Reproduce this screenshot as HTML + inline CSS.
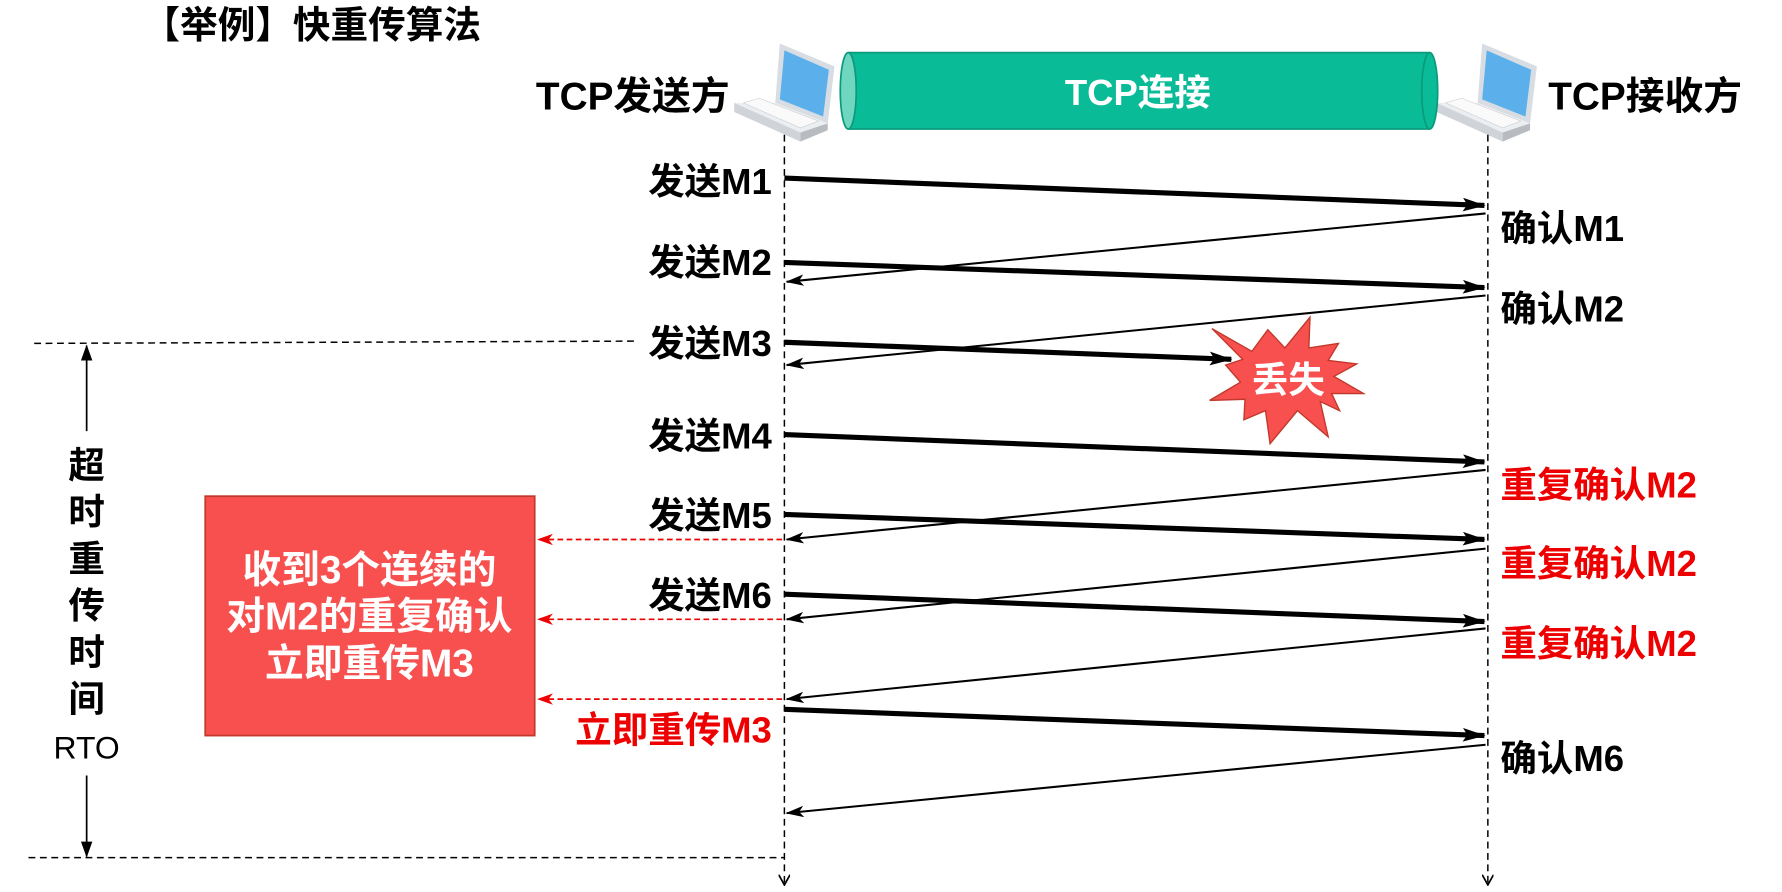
<!DOCTYPE html>
<html><head><meta charset="utf-8"><style>
html,body{margin:0;padding:0;background:#fff;}
svg{display:block}
text{font-family:"Liberation Sans","Noto Sans CJK SC",sans-serif;font-weight:bold;}
</style></head><body>
<svg width="1782" height="892" viewBox="0 0 1563 782" xmlns="http://www.w3.org/2000/svg">
<defs>
<marker id="at" markerWidth="20" markerHeight="12" refX="19" refY="6" orient="auto" markerUnits="userSpaceOnUse"><path d="M0,0 L20,6 L0,12 L4,6 z" fill="#000"/></marker>
<marker id="at2" markerWidth="16" markerHeight="10" refX="15" refY="5" orient="auto" markerUnits="userSpaceOnUse"><path d="M0,0 L16,5 L0,10 L4,5 z" fill="#000"/></marker>
<marker id="ar" markerWidth="14" markerHeight="10" refX="13" refY="5" orient="auto" markerUnits="userSpaceOnUse"><path d="M0,0 L14,5 L0,10 L4,5 z" fill="#e00"/></marker>
<marker id="ad" markerWidth="10" markerHeight="10" refX="9" refY="5" orient="auto" markerUnits="userSpaceOnUse"><path d="M0,0 L9,5 L0,10" fill="none" stroke="#000" stroke-width="1.5"/></marker>
<marker id="af" markerWidth="14" markerHeight="10" refX="13" refY="5" orient="auto" markerUnits="userSpaceOnUse"><path d="M0,0 L14,5 L0,10 z" fill="#000"/></marker>
<g id="lap">
<polygon points="40,0 88,20 82,70 36,52" fill="#d8dde3"/>
<polygon points="44,6 83,23 78,64 40,49" fill="#5bb0ec"/>
<polygon points="36,52 82,70 58,78 0,52" fill="#eceff2"/>
<polygon points="8,52 58,74 74,68 22,48" fill="#fafafa" stroke="#ccc" stroke-width="0.5"/>
<polygon points="0,52 58,78 58,86 0,60" fill="#d0d4d8"/>
<polygon points="58,78 82,70 82,76 58,86" fill="#b8bcc0"/>
</g>
</defs>

<text x="125" y="33" font-size="33">【举例】快重传算法</text>
<text x="640" y="96" font-size="34" text-anchor="end">TCP发送方</text>
<text x="1358" y="96" font-size="34">TCP接收方</text>

<use href="#lap" x="644" y="38"/>
<use href="#lap" x="1260" y="38"/>

<!-- cylinder -->
<rect x="744" y="46" width="510" height="67" fill="#0abb98"/>
<ellipse cx="1254" cy="79.5" rx="7" ry="33.5" fill="#0abb98" stroke="#0a9a7c" stroke-width="1.5"/>
<line x1="744" y1="46" x2="1254" y2="46" stroke="#0a9a7c" stroke-width="1.5"/>
<line x1="744" y1="113" x2="1254" y2="113" stroke="#0a9a7c" stroke-width="1.5"/>
<ellipse cx="744" cy="79.5" rx="7" ry="33.5" fill="#6fd6c0" stroke="#0a9a7c" stroke-width="1.5"/>
<text x="998" y="92" font-size="32" fill="#fff" text-anchor="middle">TCP连接</text>

<!-- lifelines -->
<line x1="688" y1="118" x2="688" y2="776" stroke="#000" stroke-width="1.3" stroke-dasharray="6,4" marker-end="url(#ad)"/>
<line x1="1305" y1="118" x2="1305" y2="776" stroke="#000" stroke-width="1.3" stroke-dasharray="6,4" marker-end="url(#ad)"/>

<!-- timeout -->
<line x1="30" y1="301" x2="560" y2="299" stroke="#000" stroke-width="1.3" stroke-dasharray="6,4"/>
<line x1="25" y1="752" x2="688" y2="752" stroke="#000" stroke-width="1.3" stroke-dasharray="6,4"/>
<line x1="76" y1="378" x2="76" y2="303" stroke="#000" stroke-width="1.5" marker-end="url(#af)"/>
<line x1="76" y1="680" x2="76" y2="751" stroke="#000" stroke-width="1.5" marker-end="url(#af)"/>
<g font-size="32" text-anchor="middle">
<text x="76" y="419">超</text><text x="76" y="460">时</text><text x="76" y="501">重</text>
<text x="76" y="542">传</text><text x="76" y="583">时</text><text x="76" y="624">间</text>
</g>
<text x="76" y="665" font-size="28" text-anchor="middle" style="font-weight:normal">RTO</text>

<!-- send labels -->
<g font-size="32" text-anchor="end">
<text x="677" y="170">发送M1</text>
<text x="677" y="241">发送M2</text>
<text x="677" y="312">发送M3</text>
<text x="677" y="393">发送M4</text>
<text x="677" y="463">发送M5</text>
<text x="677" y="533">发送M6</text>
<text x="677" y="651" fill="#e00">立即重传M3</text>
</g>
<g font-size="32">
<text x="1316" y="211">确认M1</text>
<text x="1316" y="282">确认M2</text>
<text x="1316" y="436" fill="#e00">重复确认M2</text>
<text x="1316" y="505" fill="#e00">重复确认M2</text>
<text x="1316" y="575" fill="#e00">重复确认M2</text>
<text x="1316" y="676">确认M6</text>
</g>

<!-- thick arrows -->
<g stroke="#000" stroke-width="4.5" marker-end="url(#at)">
<line x1="688" y1="156" x2="1302" y2="180"/>
<line x1="688" y1="230" x2="1302" y2="252"/>
<line x1="688" y1="300" x2="1080" y2="315"/>
<line x1="688" y1="381" x2="1302" y2="405"/>
<line x1="688" y1="451" x2="1302" y2="473"/>
<line x1="688" y1="521" x2="1302" y2="545"/>
<line x1="688" y1="622" x2="1302" y2="645"/>
</g>
<!-- thin acks -->
<g stroke="#000" stroke-width="1.8" marker-end="url(#at2)">
<line x1="1303" y1="187" x2="690" y2="247"/>
<line x1="1303" y1="259" x2="690" y2="320"/>
<line x1="1303" y1="412" x2="690" y2="473"/>
<line x1="1303" y1="481" x2="690" y2="543"/>
<line x1="1303" y1="551" x2="690" y2="613"/>
<line x1="1303" y1="653" x2="690" y2="713"/>
</g>
<!-- red dashed -->
<g stroke="#e00" stroke-width="1.5" stroke-dasharray="5,3" marker-end="url(#ar)">
<line x1="686" y1="473" x2="472" y2="473"/>
<line x1="686" y1="543" x2="472" y2="543"/>
<line x1="686" y1="613" x2="472" y2="613"/>
</g>

<!-- red box -->
<rect x="180" y="435" width="289" height="210" fill="#f84f4f" stroke="#c0392b" stroke-width="1.5"/>
<g font-size="34" fill="#fff" text-anchor="middle">
<text x="324" y="511">收到3个连续的</text>
<text x="324" y="552">对M2的重复确认</text>
<text x="324" y="593">立即重传M3</text>
</g>

<!-- starburst -->
<polygon points="1063,288 1098,308 1112,289 1127,305 1149,278 1148,305 1174,301 1165,316 1190,319 1170,330 1196,345 1168,345 1175,360 1158,352 1165,383 1138,360 1114,389 1110,360 1091,368 1092,350 1061,351 1088,335 1075,320 1090,315" fill="#f84f4f" stroke="#c0392b" stroke-width="1.2"/>
<text x="1130" y="344" font-size="32" fill="#fff" text-anchor="middle">丢失</text>
</svg>
</body></html>
